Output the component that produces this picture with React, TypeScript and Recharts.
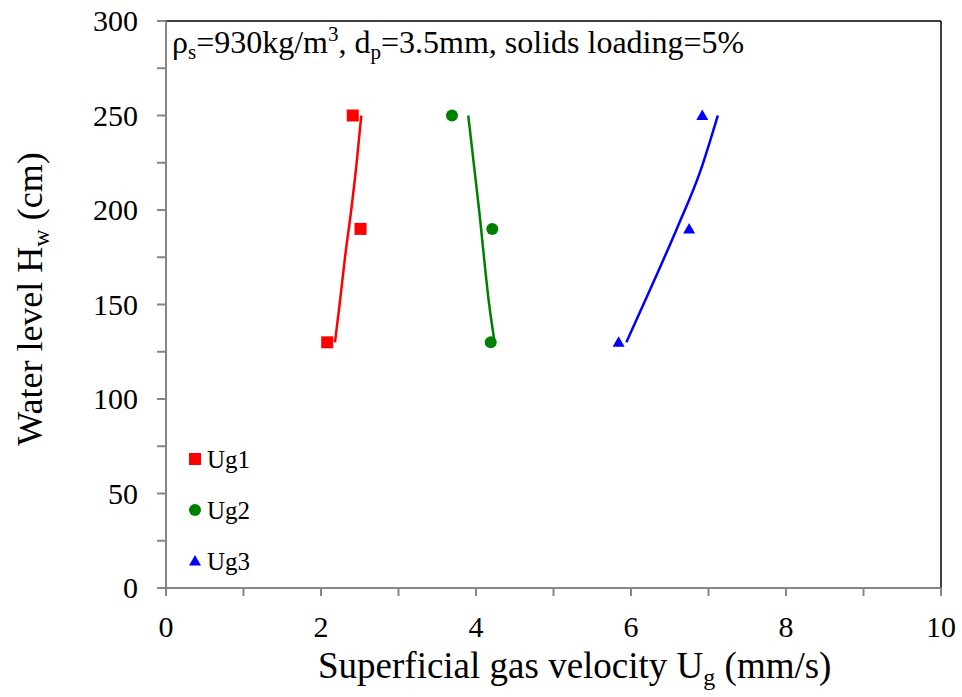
import {
  ComposedChart,
  Line,
  Scatter,
  XAxis,
  YAxis,
  Legend,
  ReferenceLine,
} from 'recharts';

const FONT = '"Liberation Serif", "Times New Roman", serif';
const AXIS_GREY = '#868686';

// measured water level (cm) against superficial gas velocity (mm/s)
const ug1Points = [
  { x: 2.08, y: 130 },
  { x: 2.51, y: 190 },
  { x: 2.41, y: 250 },
];
const ug2Points = [
  { x: 4.19, y: 130 },
  { x: 4.21, y: 190 },
  { x: 3.69, y: 250 },
];
const ug3Points = [
  { x: 5.84, y: 130 },
  { x: 6.75, y: 190 },
  { x: 6.92, y: 250 },
];

// fitted trend curves, ordered by increasing x for the monotone curve
const ug1Fit = [
  { x: 2.18, y: 130 },
  { x: 2.24, y: 150 },
  { x: 2.31, y: 175 },
  { x: 2.39, y: 200 },
  { x: 2.46, y: 225 },
  { x: 2.52, y: 250 },
];
const ug2Fit = [
  { x: 3.9, y: 250 },
  { x: 4.04, y: 200 },
  { x: 4.17, y: 150 },
  { x: 4.24, y: 130 },
];
const ug3Fit = [
  { x: 5.94, y: 130 },
  { x: 6.27, y: 160 },
  { x: 6.59, y: 190 },
  { x: 6.89, y: 220 },
  { x: 7.12, y: 250 },
];

const xTicks = [0, 1, 2, 3, 4, 5, 6, 7, 8, 9, 10];
const yTicks = [0, 25, 50, 75, 100, 125, 150, 175, 200, 225, 250, 275, 300];

type Marker = 'square' | 'circle' | 'triangle';

function drawMarker(kind: Marker, cx: number, cy: number, fill: string) {
  if (kind === 'square') {
    return <rect x={cx - 6} y={cy - 6} width={12} height={12} fill={fill} />;
  }
  if (kind === 'circle') {
    return <circle cx={cx} cy={cy} r={6} fill={fill} />;
  }
  return (
    <polygon
      points={`${cx},${cy - 6} ${cx + 6},${cy + 4.5} ${cx - 6},${cy + 4.5}`}
      fill={fill}
    />
  );
}

const markerShape = (kind: Marker, fill: string) => (props: any) =>
  drawMarker(kind, props.cx, props.cy, fill);

const legendItems: { name: string; kind: Marker; color: string }[] = [
  { name: 'Ug1', kind: 'square', color: '#ff0000' },
  { name: 'Ug2', kind: 'circle', color: '#008000' },
  { name: 'Ug3', kind: 'triangle', color: '#0000ff' },
];

function LegendBox() {
  return (
    <svg width={90} height={140}>
      {legendItems.map((item, i) => (
        <g key={item.name}>
          {drawMarker(item.kind, 7, 15 + i * 51, item.color)}
          <text x={19} y={24 + i * 51} fontSize={25} fontFamily={FONT} fill="#000">
            {item.name}
          </text>
        </g>
      ))}
    </svg>
  );
}

// serif tick labels; only every second tick carries a number
const XTick = (props: any) => {
  const v = props.payload.value;
  if (v % 2 !== 0) return <g />;
  return (
    <text x={props.x} y={props.y + 21} textAnchor="middle" fontSize={30} fontFamily={FONT} fill="#000">
      {v}
    </text>
  );
};

const YTick = (props: any) => {
  const v = props.payload.value;
  if (v % 50 !== 0) return <g />;
  return (
    <text x={props.x} y={props.y + 10} textAnchor="end" fontSize={30} fontFamily={FONT} fill="#000">
      {v}
    </text>
  );
};

export default function App() {
  return (
    <div style={{ position: 'absolute', left: 0, top: 0, background: '#fff' }}>
      <ComposedChart
        width={962}
        height={697}
        margin={{ top: 21, right: 21, bottom: 0, left: 0 }}
      >
        <XAxis
          dataKey="x"
          type="number"
          domain={[0, 10]}
          ticks={xTicks}
          height={109}
          stroke={AXIS_GREY}
          strokeWidth={2}
          tickSize={8}
          tickMargin={20}
          tick={XTick}
          allowDataOverflow
        />
        <YAxis
          dataKey="y"
          type="number"
          domain={[0, 300]}
          ticks={yTicks}
          width={166}
          stroke={AXIS_GREY}
          strokeWidth={2}
          tickSize={9}
          tickMargin={19}
          tick={YTick}
          allowDataOverflow
        />
        <ReferenceLine y={300} stroke="#000" strokeWidth={1.5} />
        <ReferenceLine x={10} stroke="#000" strokeWidth={1.5} />

        <Line data={ug1Fit} dataKey="y" type="monotone" stroke="#ff0000" strokeWidth={2.5} dot={false} legendType="none" isAnimationActive={false} />
        <Line data={ug2Fit} dataKey="y" type="monotone" stroke="#008000" strokeWidth={2.5} dot={false} legendType="none" isAnimationActive={false} />
        <Line data={ug3Fit} dataKey="y" type="monotone" stroke="#0000ff" strokeWidth={2.5} dot={false} legendType="none" isAnimationActive={false} />

        <Scatter name="Ug1" data={ug1Points} shape={markerShape('square', '#ff0000')} isAnimationActive={false} />
        <Scatter name="Ug2" data={ug2Points} shape={markerShape('circle', '#008000')} isAnimationActive={false} />
        <Scatter name="Ug3" data={ug3Points} shape={markerShape('triangle', '#0000ff')} isAnimationActive={false} />

        <Legend
          layout="vertical"
          align="center"
          verticalAlign="middle"
          content={() => <LegendBox />}
          wrapperStyle={{ left: 188, top: 444, width: 90, height: 140 }}
        />

        {/* condition annotation in the top-left of the plot */}
        <text x={172} y={53} fontSize={32} fontFamily={FONT} fill="#000">
          ρ<tspan fontSize={21} dy={6}>s</tspan>
          <tspan dy={-6}>=930kg/m</tspan>
          <tspan fontSize={21} dy={-12}>3</tspan>
          <tspan dy={12}>, d</tspan>
          <tspan fontSize={21} dy={6}>p</tspan>
          <tspan dy={-6}>=3.5mm, solids loading=5%</tspan>
        </text>

        {/* axis titles */}
        <text x={318} y={678} fontSize={37} fontFamily={FONT} fill="#000">
          Superficial gas velocity U<tspan fontSize={24} dy={7}>g</tspan>
          <tspan dy={-7}> (mm/s)</tspan>
        </text>
        <text
          x={42}
          y={299}
          fontSize={36}
          fontFamily={FONT}
          fill="#000"
          textAnchor="middle"
          transform="rotate(-90, 42, 299)"
        >
          Water level H<tspan fontSize={24} dy={7}>w</tspan>
          <tspan dy={-7}> (cm)</tspan>
        </text>
      </ComposedChart>
    </div>
  );
}
